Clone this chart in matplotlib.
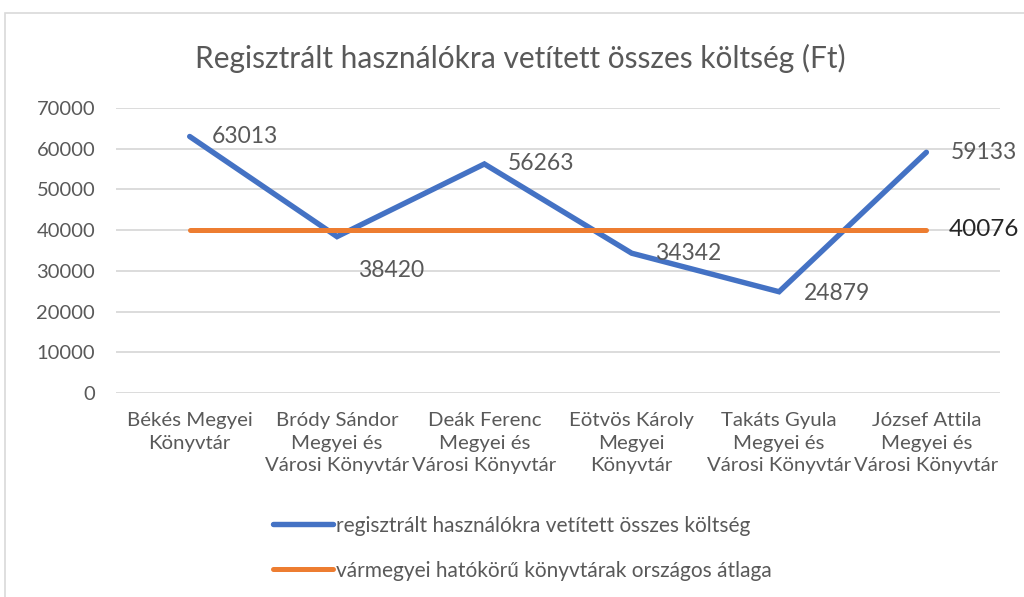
import numpy as np
import matplotlib.pyplot as plt
from matplotlib.patches import Rectangle

plt.rcParams['font.family'] = ['Lato', 'DejaVu Sans']

# adatok
kategoriak = ['Békés Megyei\nKönyvtár',
              'Bródy Sándor\nMegyei és\nVárosi Könyvtár',
              'Deák Ferenc\nMegyei és\nVárosi Könyvtár',
              'Eötvös Károly\nMegyei\nKönyvtár',
              'Takáts Gyula\nMegyei és\nVárosi Könyvtár',
              'József Attila\nMegyei és\nVárosi Könyvtár']
koltseg = [63013, 38420, 56263, 34342, 24879, 59133]
atlag = [40076, 40076, 40076, 40076, 40076, 40076]
yticks = [0, 10000, 20000, 30000, 40000, 50000, 60000, 70000]

kek = '#4472C4'
narancs = '#ED7D31'
szurke = '#595959'

fig = plt.figure(figsize=(10.24, 5.97), dpi=100)
ax = fig.add_axes([0.1133, 0.3417, 0.8633, 0.4773])

# keret
fig.patches.append(Rectangle((5/1024, -0.05), 1.1, 1 - 13/597 + 0.05,
                             transform=fig.transFigure, fill=False,
                             edgecolor='#D9D9D9', lw=1.2))

x = np.arange(len(kategoriak))
ax.plot(x, koltseg, color=kek, lw=3.9, solid_capstyle='round',
        solid_joinstyle='miter', label='regisztrált használókra vetített összes költség', zorder=3)
ax.plot(x, atlag, color=narancs, lw=3.6, solid_capstyle='round',
        label='vármegyei hatókörű könyvtárak országos átlaga', zorder=3)

# adatcímkék (eltolás pixelben)
eltolas = [(22, 0, 'left'), (54, -34, 'center'), (23, 0, 'left'),
           (23, 0, 'left'), (25, -2, 'left'), (24, 0, 'left')]
for i, v in enumerate(koltseg):
    dx, dy, ha = eltolas[i]
    ax.annotate(str(v), (x[i], v), xytext=(dx * 0.72, dy * 0.72),
                textcoords='offset points', ha=ha, va='center',
                fontsize=16.5, color=szurke)
ax.annotate(str(atlag[-1]), (x[-1], atlag[-1]), xytext=(22 * 0.72, 0),
            textcoords='offset points', ha='left', va='center',
            fontsize=17.5, color='#262626', annotation_clip=False)

ax.set_xlim(-0.5, len(kategoriak) - 0.5)
ax.set_ylim(0, 70000)
ax.set_yticks(yticks)
ax.set_yticklabels([str(t) for t in yticks])
ax.set_xticks(x)
ax.set_xticklabels(kategoriak, linespacing=1.38)
ax.tick_params(axis='y', length=0, pad=15, labelsize=14.5, labelcolor=szurke)
ax.tick_params(axis='x', length=0, pad=14, labelsize=14.7, labelcolor=szurke)
ax.grid(axis='y', color='#D9D9D9', lw=1.3)
ax.set_axisbelow(True)
for s in ax.spines.values():
    s.set_visible(False)

fig.text(0.508, 1 - 58/597, 'Regisztrált használókra vetített összes költség (Ft)',
         ha='center', va='center', fontsize=21.5, color=szurke)

fig.legend(loc='upper left', bbox_to_anchor=(254/1024, 1 - 497/597),
           frameon=False, fontsize=15, handlelength=2.9, handletextpad=0.15,
           labelspacing=1.2, labelcolor=szurke)

fig.savefig('out.png', dpi=100)
